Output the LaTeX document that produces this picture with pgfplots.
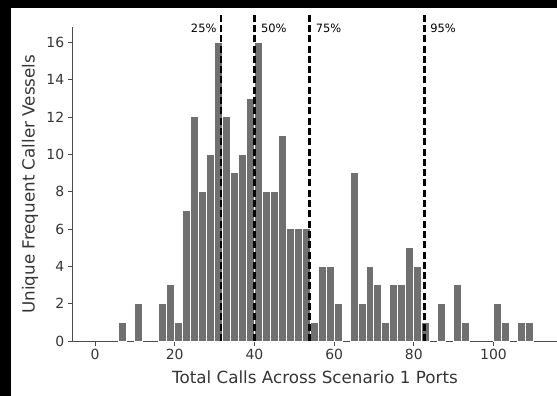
\documentclass[border=0pt]{standalone}
\usepackage{fontspec}
\setmainfont{DejaVu Sans}
\usepackage{pgfplots}
\usepackage{pgfplotstable}
\pgfplotsset{compat=1.18}

\definecolor{barfill}{HTML}{707070}
\definecolor{ink}{HTML}{363636}
\definecolor{spine}{HTML}{4A4A4A}

% histogram of calls per vessel: bin centre (bins are 2 calls wide) and count
\pgfplotstableread{
center count
7   1
11  2
17  2
19  3
21  1
23  7
25  12
27  8
29  10
31  16
33  12
35  9
37  10
39  13
41  16
43  8
45  8
47  11
49  6
51  6
53  6
55  1
57  4
59  4
61  2
65  9
67  2
69  4
71  3
73  1
75  3
77  3
79  5
81  4
83  1
87  2
91  3
93  1
101 2
103 1
107 1
109 1
}\calls

\begin{document}
\begin{tikzpicture}
\path[use as bounding box] (0,0) rectangle (557bp,396bp);
\fill[white] (0,0) rectangle (557bp,396bp);
\fill[black] (0,0) rectangle (11bp,396bp);
\fill[black] (0,388bp) rectangle (557bp,396bp);
\begin{axis}[
  at={(72.7bp,55bp)}, anchor=south west,
  scale only axis, width=484.6bp, height=313.6bp,
  xmin=-5.6, xmax=116, ymin=0, ymax=16.8,
  axis x line*=bottom, axis y line*=left,
  axis line style={spine, line width=1bp},
  xtick={0,20,...,100}, ytick={0,2,...,16},
  tick align=outside, major tick length=5bp,
  tick style={spine, line width=0.9bp},
  /pgf/number format/assume math mode=true,
  tick label style={font=\fontsize{14}{16}\selectfont, text=ink},
  xlabel={Total Calls Across Scenario 1 Ports},
  ylabel={Unique Frequent Caller Vessels},
  label style={font=\fontsize{16.8}{20}\selectfont, text=ink},
  xlabel style={at={(axis description cs:0.5,-0.1371)}, anchor=base},
  ylabel style={at={(axis description cs:-0.0784,0.5)}, anchor=base},
  clip=false,
]
\addplot[ybar, bar width=2, fill=barfill, draw=white, line width=1bp]
  table[x=center, y=count] {\calls};

% quartile and 95th-percentile markers
\addplot[black, line width=2.8bp, dash pattern=on 7bp off 3.3bp] coordinates {(31.6,0) (31.6,17.45)};
\addplot[black, line width=2.8bp, dash pattern=on 7bp off 3.3bp] coordinates {(40.05,0) (40.05,17.45)};
\addplot[black, line width=2.8bp, dash pattern=on 7bp off 3.3bp] coordinates {(53.8,0) (53.8,17.45)};
\addplot[black, line width=2.8bp, dash pattern=on 7bp off 3.3bp] coordinates {(82.65,0) (82.65,17.45)};

\node[anchor=east, inner sep=0pt, xshift=-4.3bp, font=\fontsize{11.5}{13}\selectfont] at (axis cs:31.6,16.75) {25\%};
\node[anchor=west, inner sep=0pt, xshift=6.3bp, font=\fontsize{11.5}{13}\selectfont] at (axis cs:40.05,16.75) {50\%};
\node[anchor=west, inner sep=0pt, xshift=6.3bp, font=\fontsize{11.5}{13}\selectfont] at (axis cs:53.8,16.75) {75\%};
\node[anchor=west, inner sep=0pt, xshift=5.7bp, font=\fontsize{11.5}{13}\selectfont] at (axis cs:82.65,16.75) {95\%};
\end{axis}
\end{tikzpicture}
\end{document}
